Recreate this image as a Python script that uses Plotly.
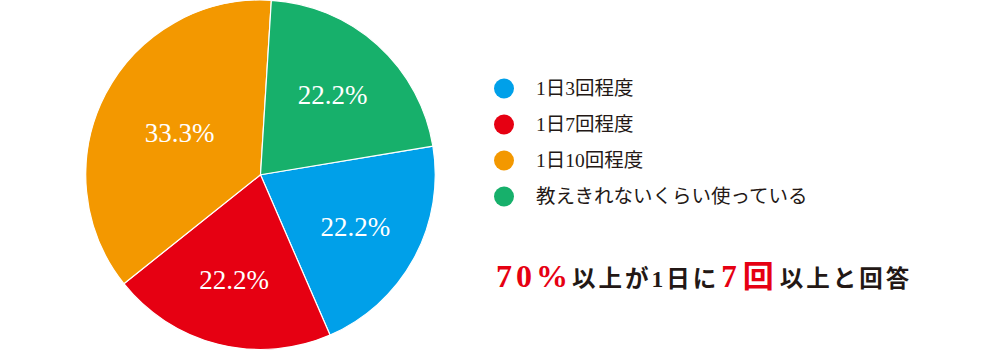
import plotly.graph_objects as go

# ---- data ----
categories = ["1日3回程度", "1日7回程度", "1日10回程度", "教えきれないくらい使っている"]
shares = [21.1, 20.8, 36.7, 21.4]          # slice sizes as drawn (%)
pct_labels = ["22.2%", "22.2%", "33.3%", "22.2%"]  # printed labels
headline_parts = ["70%", "以上が1日に", "7回", "以上と回答"]

# ---- style ----
colors = ["#00a0e9", "#e60012", "#f39800", "#17b06b"]
W, H = 1000, 351
SERIF_JP = "Liberation Serif, 'Noto Sans CJK JP'"

fig = go.Figure()
fig.add_trace(go.Pie(
    labels=categories, values=shares, text=pct_labels,
    textinfo="text", sort=False, direction="clockwise", rotation=80.6,
    marker=dict(colors=colors, line=dict(color="white", width=1.2)),
    textposition="inside", insidetextorientation="horizontal",
    textfont=dict(family="Liberation Serif", size=27, color="white"),
    domain=dict(x=[85.5 / W, 435.5 / W], y=[1 - 349.5 / H, 1]),
    showlegend=False, hoverinfo="skip",
))

# manual legend
shapes, annotations = [], []
row_y0, row_step = 88.5, 36
for i, (cat, col) in enumerate(zip(categories, colors)):
    yc = row_y0 + i * row_step
    r = 10
    shapes.append(dict(type="circle", xref="paper", yref="paper",
                       x0=(504 - r) / W, x1=(504 + r) / W,
                       y0=1 - (yc + r) / H, y1=1 - (yc - r) / H,
                       fillcolor=col, line=dict(width=0)))
    annotations.append(dict(text=cat, xref="paper", yref="paper",
                            x=534 / W, y=1 - yc / H, xanchor="left", yanchor="middle",
                            showarrow=False,
                            font=dict(family=SERIF_JP, size=19.5, color="#231815")))

red = "#e60012"
headline = (
    f"<b><span style='color:{red};font-size:32px;letter-spacing:4px'>{headline_parts[0]}</span>"
    f"<span style='letter-spacing:3px'>{headline_parts[1]}</span>"
    f"<span style='font-size:8px'> </span>"
    f"<span style='color:{red};font-size:31px;letter-spacing:6px'>{headline_parts[2]}</span>"
    f"<span style='letter-spacing:3px'>{headline_parts[3]}</span></b>"
)
annotations.append(dict(text=headline, xref="paper", yref="paper",
                        x=494 / W, y=1 - 276 / H, xanchor="left", yanchor="middle",
                        showarrow=False,
                        font=dict(family=SERIF_JP, size=23.5, color="#231815")))

fig.update_layout(
    width=W, height=H, margin=dict(l=0, r=0, t=0, b=0),
    paper_bgcolor="white", plot_bgcolor="white",
    shapes=shapes, annotations=annotations,
)
fig.write_html("out.html")
